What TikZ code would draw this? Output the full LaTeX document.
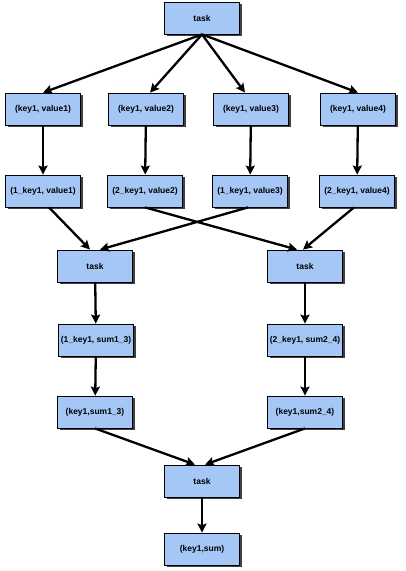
\documentclass[tikz,border=0pt]{standalone}
\usepackage{fontspec}
\setmainfont{Liberation Sans}
\usepackage{xcolor}
\usepackage{tikz}
\usetikzlibrary{arrows.meta,shadows}
\definecolor{cajaazul}{HTML}{A4C7F6}

\begin{document}
\begin{tikzpicture}[
  x=1pt,y=-1pt,
  caja/.style={rectangle,draw=black,line width=0.8pt,fill=cajaazul,
    minimum width=75pt,minimum height=32pt,inner xsep=1.5pt,
    font=\fontsize{8.5}{10}\selectfont\bfseries,
    drop shadow={shadow xshift=2pt,shadow yshift=-2pt,fill=black!75,opacity=1}},
  flecha/.style={line width=2.3pt,-{Stealth[length=9pt,width=9pt,inset=1.5pt]}}
]
  \useasboundingbox (0,0) rectangle (405,571);
  \node[caja] (t0) at (202,18)  {task};
  \node[caja] (kv1) at (43,109)  {(key1, value1)};
  \node[caja] (kv2) at (146,109) {(key1, value2)};
  \node[caja] (kv3) at (251,109) {(key1, value3)};
  \node[caja] (kv4) at (358,109) {(key1, value4)};
  \node[caja] (nk1) at (43,191)  {(1\_key1, value1)};
  \node[caja] (nk2) at (145,191) {(2\_key1, value2)};
  \node[caja] (nk3) at (250,191) {(1\_key1, value3)};
  \node[caja] (nk4) at (357,191) {(2\_key1, value4)};
  \node[caja] (t1) at (95,266)  {task};
  \node[caja] (t2) at (305,266) {task};
  \node[caja] (s1) at (96,340)  {(1\_key1, sum1\_3)};
  \node[caja] (s2) at (305,340) {(2\_key1, sum2\_4)};
  \node[caja] (ks1) at (95,412)  {(key1,sum1\_3)};
  \node[caja] (ks2) at (305,412) {(key1,sum2\_4)};
  \node[caja] (t3) at (202,481) {task};
  \node[caja] (r) at (202,549)  {(key1,sum)};
  \draw[flecha] (t0.south) -- (kv1.north);
  \draw[flecha] (t0.south) -- ([xshift=4]kv2.north);
  \draw[flecha] (t0.south) -- ([xshift=-6]kv3.north);
  \draw[flecha] (t0.south) -- (kv4.north);
  \draw[flecha] (kv1) -- (nk1);
  \draw[flecha] (kv2) -- (nk2);
  \draw[flecha] (kv3) -- (nk3);
  \draw[flecha] (kv4) -- (nk4);
  \draw[flecha] ([xshift=6]nk1.south) -- ([xshift=-5]t1.north);
  \draw[flecha] ([xshift=-2]nk3.south) -- ([xshift=5]t1.north);
  \draw[flecha] (nk2.south) -- ([xshift=-8]t2.north);
  \draw[flecha] ([xshift=-3]nk4.south) -- ([xshift=-2]t2.north);
  \draw[flecha] (t1) -- (s1);
  \draw[flecha] (t2) -- (s2);
  \draw[flecha] (s1) -- (ks1);
  \draw[flecha] (s2) -- (ks2);
  \draw[flecha] (ks1.south) -- ([xshift=-7]t3.north);
  \draw[flecha] (ks2.south) -- ([xshift=3]t3.north);
  \draw[flecha] (t3) -- (r);
\end{tikzpicture}
\end{document}
